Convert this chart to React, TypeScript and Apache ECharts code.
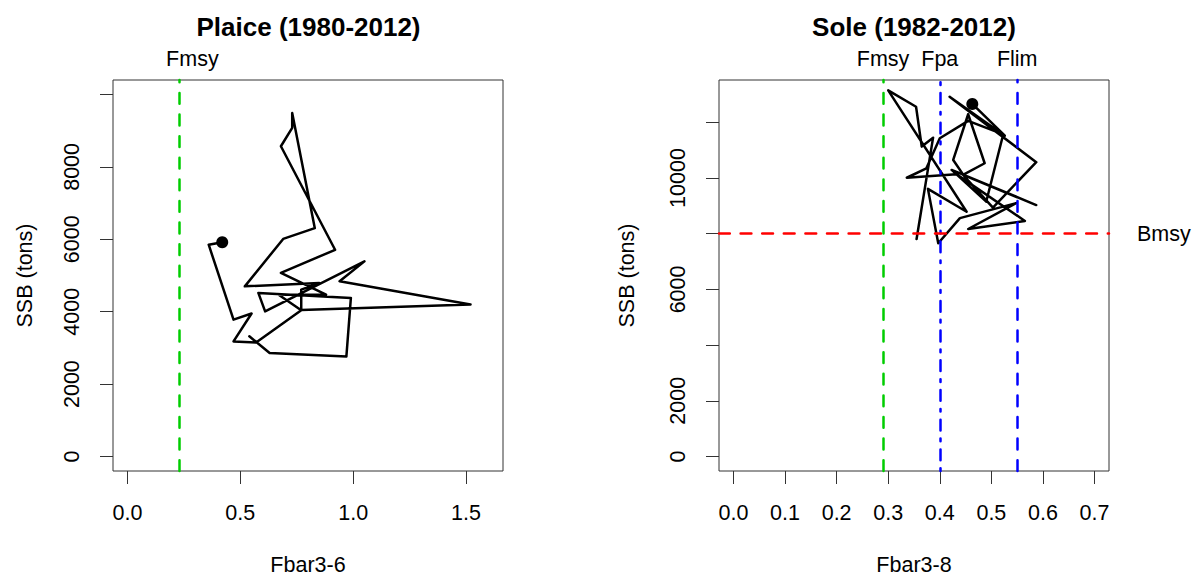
import React, { useEffect, useRef } from 'react';
import * as echarts from 'echarts';

// ---------- Data ----------
const PLAICE_F = [0.54, 0.63, 0.97, 0.99, 0.58, 0.61, 1.05, 0.94, 1.52, 0.77, 0.77, 0.85, 0.52, 0.69, 0.83, 0.73, 0.73, 0.68, 0.92, 0.68, 0.88, 0.67, 0.77, 0.57, 0.47, 0.55, 0.47, 0.36, 0.42];
const PLAICE_SSB = [3320, 2860, 2760, 4380, 4520, 4010, 5390, 4840, 4200, 4050, 4610, 4790, 4700, 6010, 6310, 9490, 9080, 8570, 5710, 5070, 4470, 4470, 4040, 3150, 3180, 3950, 3780, 5850, 5920];

const SOLE_F = [0.355, 0.387, 0.365, 0.354, 0.3, 0.452, 0.377, 0.397, 0.439, 0.548, 0.455, 0.565, 0.432, 0.336, 0.374, 0.4, 0.455, 0.523, 0.49, 0.423, 0.587, 0.445, 0.487, 0.455, 0.426, 0.448, 0.503, 0.587, 0.419, 0.526, 0.463];
const SOLE_SSB = [7810, 11450, 11130, 12560, 13150, 8790, 9610, 7660, 8560, 9100, 8170, 8460, 10140, 10010, 10350, 11430, 12050, 11570, 9150, 10290, 9030, 10110, 10530, 12290, 10650, 10050, 8940, 10570, 12920, 11520, 12660];

const PLAICE_X_TICKS = [0, 0.5, 1.0, 1.5];
const PLAICE_Y_TICKS = [0, 2000, 4000, 6000, 8000, 10000];
const PLAICE_Y_LABELS = [0, 2000, 4000, 6000, 8000];
const PLAICE_X_RANGE = [-0.064, 1.664];
const PLAICE_Y_RANGE = [-400, 10400];

const SOLE_X_TICKS = [0, 0.1, 0.2, 0.3, 0.4, 0.5, 0.6, 0.7];
const SOLE_Y_TICKS = [0, 2000, 4000, 6000, 8000, 10000, 12000];
const SOLE_Y_LABELS = [0, 2000, 6000, 10000];
const SOLE_X_RANGE = [-0.028, 0.728];
const SOLE_Y_RANGE = [-520, 13520];

const PLAICE_FMSY = 0.23;
const SOLE_FMSY = 0.29;
const SOLE_FPA = 0.4;
const SOLE_FLIM = 0.55;
const SOLE_BMSY = 8000;

// ---------- Styles ----------
const FONT = '"Liberation Sans", Arial, Helvetica, sans-serif';
const FS = 21.5;
const GREEN = '#00CD00';
const BLUE = '#0000FF';
const RED = '#FF0000';
const DASH = [10.8, 10.8];
const DOTDASH = [2.7, 8.1, 10.8, 8.1];

const zip = (xs: number[], ys: number[]) => xs.map((x, i) => [x, ys[i]]);

function xAxisCfg(gridIndex: number, range: number[], ticks: number[]) {
  return {
    type: 'value', gridIndex, min: range[0], max: range[1], position: 'bottom',
    axisLine: { show: false, onZero: false }, splitLine: { show: false },
    axisTick: { show: true, inside: false, length: 13, customValues: ticks, lineStyle: { color: '#333', width: 1 } },
    axisLabel: {
      show: true, customValues: ticks, margin: 31, fontSize: FS, color: '#000', fontFamily: FONT,
      formatter: (v: number) => v.toFixed(1),
    },
  };
}

function yAxisCfg(gridIndex: number, range: number[], ticks: number[], labels: number[]) {
  return {
    type: 'value', gridIndex, min: range[0], max: range[1], position: 'left',
    axisLine: { show: false, onZero: false }, splitLine: { show: false },
    axisTick: { show: true, inside: false, length: 13, customValues: ticks, lineStyle: { color: '#333', width: 1 } },
    axisLabel: {
      show: true, customValues: labels, rotate: 90, margin: 30, fontSize: FS, color: '#000', fontFamily: FONT,
      formatter: (v: number) => String(Math.round(v)),
    },
  };
}

function vLine(x: number, color: string, type: number[], name: string, padLeft = 0) {
  return {
    xAxis: x,
    lineStyle: { color, width: 2.5, type, cap: 'round' },
    label: {
      show: true, position: 'end', formatter: name, color: '#000', fontSize: FS, fontFamily: FONT,
      distance: 10, padding: [0, 0, 0, padLeft],
    },
  };
}

const trajStyle = { color: '#000', width: 2.5, join: 'round', cap: 'round' };

function buildOption() {
  const plaice = zip(PLAICE_F, PLAICE_SSB);
  const sole = zip(SOLE_F, SOLE_SSB);
  return {
    animation: false,
    backgroundColor: '#fff',
    grid: [
      { left: 113, top: 80, width: 390, height: 391, show: true, borderColor: '#333', borderWidth: 1, containLabel: false },
      { left: 719, top: 80, width: 390, height: 391, show: true, borderColor: '#333', borderWidth: 1, containLabel: false },
    ],
    xAxis: [xAxisCfg(0, PLAICE_X_RANGE, PLAICE_X_TICKS), xAxisCfg(1, SOLE_X_RANGE, SOLE_X_TICKS)],
    yAxis: [
      yAxisCfg(0, PLAICE_Y_RANGE, PLAICE_Y_TICKS, PLAICE_Y_LABELS),
      yAxisCfg(1, SOLE_Y_RANGE, SOLE_Y_TICKS, SOLE_Y_LABELS),
    ],
    series: [
      {
        type: 'line', xAxisIndex: 0, yAxisIndex: 0, data: plaice, showSymbol: false, symbol: 'none',
        lineStyle: trajStyle, silent: true,
        markLine: {
          silent: true, symbol: ['none', 'none'],
          data: [vLine(PLAICE_FMSY, GREEN, DASH, 'Fmsy', 26)],
        },
      },
      {
        type: 'scatter', xAxisIndex: 0, yAxisIndex: 0, data: [plaice[plaice.length - 1]],
        symbolSize: 12, itemStyle: { color: '#000', opacity: 1 }, silent: true,
      },
      {
        type: 'line', xAxisIndex: 1, yAxisIndex: 1, data: sole, showSymbol: false, symbol: 'none',
        lineStyle: trajStyle, silent: true,
        markLine: {
          silent: true, symbol: ['none', 'none'],
          data: [
            vLine(SOLE_FMSY, GREEN, DASH, 'Fmsy'),
            vLine(SOLE_FPA, BLUE, DOTDASH, 'Fpa'),
            vLine(SOLE_FLIM, BLUE, DASH, 'Flim'),
            {
              yAxis: SOLE_BMSY,
              lineStyle: { color: RED, width: 2.5, type: DASH, cap: 'round' },
              label: { show: true, position: 'end', formatter: 'Bmsy', color: '#000', fontSize: FS, fontFamily: FONT, distance: 28 },
            },
          ],
        },
      },
      {
        type: 'scatter', xAxisIndex: 1, yAxisIndex: 1, data: [sole[sole.length - 1]],
        symbolSize: 12, itemStyle: { color: '#000', opacity: 1 }, silent: true,
      },
    ],
    graphic: [
      { type: 'text', x: 308.5, y: 27, style: { text: 'Plaice (1980-2012)', font: `bold 26px ${FONT}`, fill: '#000', align: 'center', verticalAlign: 'middle' } },
      { type: 'text', x: 914, y: 27, style: { text: 'Sole (1982-2012)', font: `bold 26px ${FONT}`, fill: '#000', align: 'center', verticalAlign: 'middle' } },
      { type: 'text', x: 308, y: 565, style: { text: 'Fbar3-6', font: `${FS}px ${FONT}`, fill: '#000', align: 'center', verticalAlign: 'middle' } },
      { type: 'text', x: 914, y: 565, style: { text: 'Fbar3-8', font: `${FS}px ${FONT}`, fill: '#000', align: 'center', verticalAlign: 'middle' } },
      { type: 'text', x: 25, y: 275.5, rotation: Math.PI / 2, style: { text: 'SSB (tons)', font: `${FS}px ${FONT}`, fill: '#000', align: 'center', verticalAlign: 'middle' } },
      { type: 'text', x: 627, y: 275.5, rotation: Math.PI / 2, style: { text: 'SSB (tons)', font: `${FS}px ${FONT}`, fill: '#000', align: 'center', verticalAlign: 'middle' } },
    ],
  };
}

export default function App() {
  const ref = useRef<HTMLDivElement>(null);
  useEffect(() => {
    const chart = echarts.init(ref.current as HTMLDivElement, null, { renderer: 'svg' });
    chart.setOption(buildOption() as any);
    return () => chart.dispose();
  }, []);
  return (
    <div
      ref={ref}
      style={{ position: 'fixed', left: 0, top: 0, width: 1195, height: 576, background: '#fff' }}
    />
  );
}
